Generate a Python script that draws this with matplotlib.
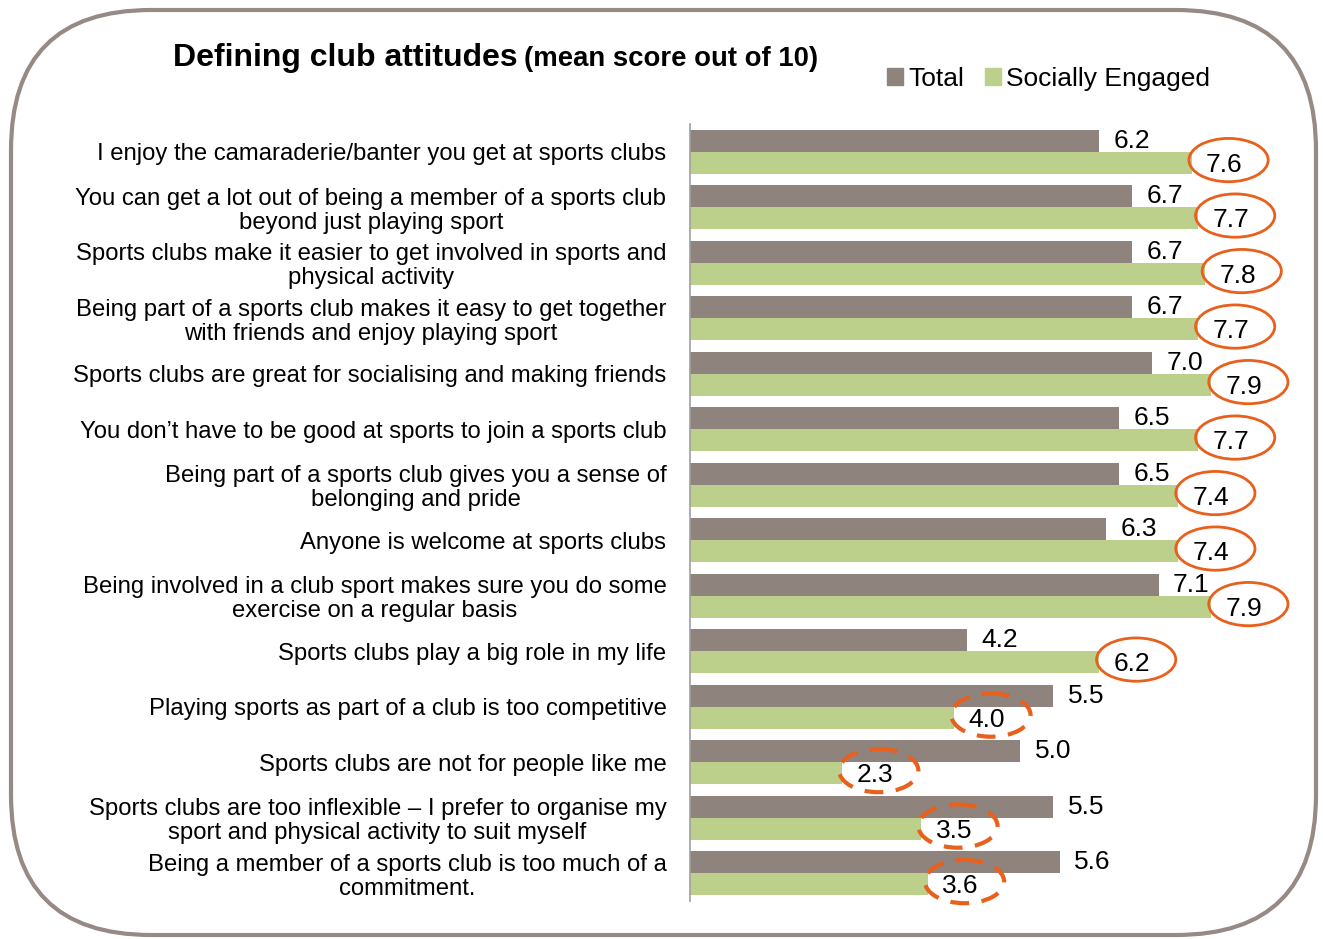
import matplotlib
matplotlib.use("Agg")
import matplotlib.pyplot as plt
from matplotlib.patches import Ellipse, FancyBboxPatch, Patch
import numpy as np

# data
categories = [
    "I enjoy the camaraderie/banter you get at sports clubs",
    "You can get a lot out of being a member of a sports club\nbeyond just playing sport",
    "Sports clubs make it easier to get involved in sports and\nphysical activity",
    "Being part of a sports club makes it easy to get together\nwith friends and enjoy playing sport",
    "Sports clubs are great for socialising and making friends",
    "You don\u2019t have to be good at sports to join a sports club",
    "Being part of a sports club gives you a sense of\nbelonging and pride",
    "Anyone is welcome at sports clubs",
    "Being involved in a club sport makes sure you do some\nexercise on a regular basis",
    "Sports clubs play a big role in my life",
    "Playing sports as part of a club is too competitive",
    "Sports clubs are not for people like me",
    "Sports clubs are too inflexible \u2013 I prefer to organise my\nsport and physical activity to suit myself",
    "Being a member of a sports club is too much of a\ncommitment.",
]
total = [6.2, 6.7, 6.7, 6.7, 7.0, 6.5, 6.5, 6.3, 7.1, 4.2, 5.5, 5.0, 5.5, 5.6]
socially = [7.6, 7.7, 7.8, 7.7, 7.9, 7.7, 7.4, 7.4, 7.9, 6.2, 4.0, 2.3, 3.5, 3.6]
series_names = ["Total", "Socially Engaged"]

grey = "#8f837e"
green = "#bcd08c"
orange = "#e8601c"

plt.rcParams["font.family"] = ["Liberation Sans", "DejaVu Sans"]

fig = plt.figure(figsize=(13.23, 9.39), dpi=100)
ax = fig.add_axes([690 / 1323, 1 - 901 / 939, 627 / 1323, 777 / 939])

y = np.arange(len(categories))
h = 0.4
ax.barh(y - h / 2, total, height=h, color=grey)
ax.barh(y + h / 2, socially, height=h, color=green)
ax.set_xlim(0, 9.5)
ax.set_ylim(len(categories) - 0.5, -0.5)

for sp in ["top", "right", "bottom"]:
    ax.spines[sp].set_visible(False)
ax.spines["left"].set_color("#a0a0a0")
ax.spines["left"].set_linewidth(1.2)
ax.set_xticks([])
ax.set_yticks(y)
ax.set_yticklabels(categories, fontsize=17.2, linespacing=1.12,
                   multialignment="center")
ax.tick_params(axis="y", length=0, pad=17)

for i in range(len(categories)):
    ax.text(total[i] + 0.22, y[i] - h / 2, f"{total[i]:.1f}", va="center",
            ha="left", fontsize=19)
    ax.text(socially[i] + 0.22, y[i] + h / 2 + 0.03, f"{socially[i]:.1f}",
            va="center", ha="left", fontsize=19)
    # circle the socially engaged score; dashed where it is below the total
    dashed = socially[i] < total[i]
    e = Ellipse((socially[i] + 0.56, y[i] + h / 2 - 0.05), 1.2, 0.78,
                fill=False, edgecolor=orange,
                lw=3 if dashed else 2,
                linestyle=(0, (4.5, 3)) if dashed else "-",
                clip_on=False)
    ax.add_patch(e)

# title
fig.text(173 / 1323, 1 - 58 / 939, "Defining club attitudes", fontsize=23,
         fontweight="bold", va="center", ha="left")
fig.text(524 / 1323, 1 - 59 / 939, "(mean score out of 10)", fontsize=19.8,
         fontweight="bold", va="center", ha="left")

# legend
handles = [Patch(color=grey), Patch(color=green)]
fig.legend(handles, series_names, loc="center left",
           bbox_to_anchor=(887 / 1323, 1 - 79 / 939), ncol=2, frameon=False,
           fontsize=19, handlelength=0.6, handleheight=0.6, handletextpad=0.2,
           columnspacing=0.8, borderpad=0, borderaxespad=0)

# rounded frame around the whole slide
frame = FancyBboxPatch((11 / 100, 4 / 100), 13.05, 9.25,
                       boxstyle="round,pad=0,rounding_size=1.4",
                       transform=fig.dpi_scale_trans, fill=False,
                       edgecolor="#968a85", lw=3)
fig.patches.append(frame)

fig.savefig("out.png", dpi=100)
